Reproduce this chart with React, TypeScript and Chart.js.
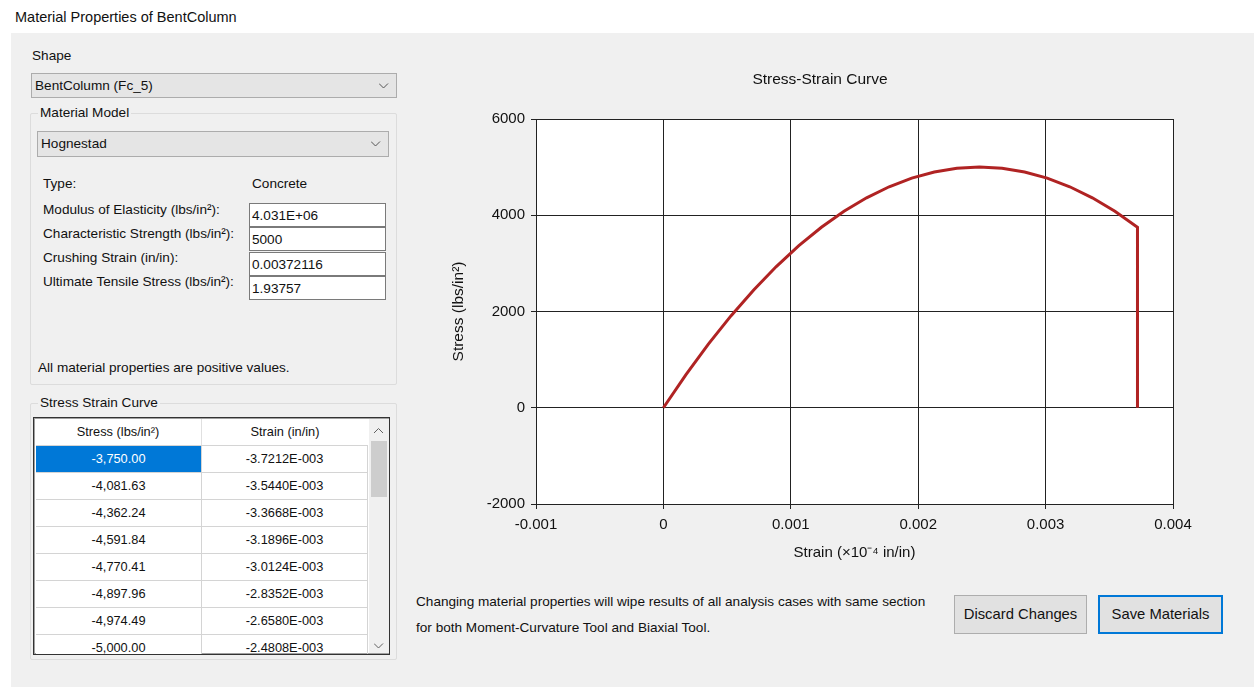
import React, { useEffect, useRef } from "react";
import { Chart, registerables } from "chart.js";

Chart.register(...registerables);

// ---- Data ----
const strainValues = [
  0, 0.0001772, 0.0003544, 0.0005316, 0.0007088, 0.000886, 0.0010632, 0.0012404,
  0.0014176, 0.0015948, 0.001772, 0.0019492, 0.0021264, 0.0023036, 0.0024808,
  0.002658, 0.0028352, 0.0030124, 0.0031896, 0.0033668, 0.003544, 0.0037212, 0.0037212,
];
const stressValues = [
  0, 688.78, 1326.53, 1913.27, 2448.98, 2933.67, 3367.35, 3750.0,
  4081.63, 4362.24, 4591.84, 4770.41, 4897.96, 4974.49, 5000.0,
  4974.49, 4897.96, 4770.41, 4591.84, 4362.24, 4081.63, 3750.0, 0,
];
const xTickValues = [-0.001, 0, 0.001, 0.002, 0.003, 0.004];
const xTickLabels = ["-0.001", "0", "0.001", "0.002", "0.003", "0.004"];
const yTickValues = [-2000, 0, 2000, 4000, 6000];
const yTickLabels = ["-2000", "0", "2000", "4000", "6000"];

const tableStress = ["-3,750.00", "-4,081.63", "-4,362.24", "-4,591.84", "-4,770.41", "-4,897.96", "-4,974.49", "-5,000.00"];
const tableStrain = ["-3.7212E-003", "-3.5440E-003", "-3.3668E-003", "-3.1896E-003", "-3.0124E-003", "-2.8352E-003", "-2.6580E-003", "-2.4808E-003"];

const propLabels = [
  "Modulus of Elasticity (lbs/in²):",
  "Characteristic Strength (lbs/in²):",
  "Crushing Strain (in/in):",
  "Ultimate Tensile Stress (lbs/in²):",
];
const propValues = ["4.031E+06", "5000", "0.00372116", "1.93757"];

const chartTitle = "Stress-Strain Curve";

const UI_FONT = "'Liberation Sans', Arial, sans-serif";
const CHART_FONT = "'Liberation Sans', Arial, sans-serif";
const UI_SIZE = 13.6;

const plotBg = {
  id: "plotBg",
  beforeDraw(chart: any) {
    const { ctx, chartArea } = chart;
    if (!chartArea) return;
    ctx.save();
    ctx.fillStyle = "#ffffff";
    ctx.fillRect(chartArea.left, chartArea.top, chartArea.right - chartArea.left, chartArea.bottom - chartArea.top);
    ctx.restore();
  },
};

// Title centred like the original control (over the whole chart control, not the canvas box)
const centeredTitle = {
  id: "centeredTitle",
  afterDraw(chart: any) {
    const { ctx } = chart;
    ctx.save();
    ctx.font = "15.5px " + CHART_FONT;
    ctx.fillStyle = "#111";
    ctx.textAlign = "center";
    ctx.textBaseline = "middle";
    ctx.fillText(chartTitle, 380, 18);
    ctx.restore();
  },
};

function StressChart() {
  const ref = useRef<HTMLCanvasElement | null>(null);
  useEffect(() => {
    if (!ref.current) return;
    const points = strainValues.map((s, i) => ({ x: s, y: stressValues[i] }));
    const chart = new Chart(ref.current, {
      type: "line",
      data: {
        datasets: [
          {
            data: points,
            borderColor: "#b02323",
            borderWidth: 3,
            pointRadius: 0,
            tension: 0,
            fill: false,
          },
        ],
      },
      options: {
        animation: false,
        responsive: false,
        layout: { padding: { left: 0, right: 47, top: 57, bottom: 0 } },
        plugins: {
          legend: { display: false },
          tooltip: { enabled: false },
          title: { display: false },
        },
        scales: {
          x: {
            type: "linear",
            min: -0.001,
            max: 0.004,
            afterBuildTicks: (scale: any) => {
              scale.ticks = xTickValues.map((v) => ({ value: v }));
            },
            afterFit: (scale: any) => {
              scale.height = 68;
            },
            ticks: {
              color: "#111",
              font: { family: CHART_FONT, size: 15 },
              padding: 7,
              maxRotation: 0,
              autoSkip: false,
              callback: (v: any) => {
                const i = xTickValues.findIndex((t) => Math.abs(t - Number(v)) < 1e-9);
                return i >= 0 ? xTickLabels[i] : "";
              },
            },
            grid: { color: "#222", lineWidth: 1, drawTicks: true, tickLength: 5 },
            border: { color: "#222", width: 1 },
            title: {
              display: true,
              text: "Strain (×10⁻⁴ in/in)",
              color: "#111",
              font: { family: CHART_FONT, size: 15 },
              padding: { top: 0, bottom: 10 },
            },
          },
          y: {
            type: "linear",
            min: -2000,
            max: 6000,
            afterBuildTicks: (scale: any) => {
              scale.ticks = yTickValues.map((v) => ({ value: v }));
            },
            afterFit: (scale: any) => {
              scale.width = 96;
            },
            ticks: {
              color: "#111",
              font: { family: CHART_FONT, size: 15 },
              padding: 6,
              callback: (v: any) => {
                const i = yTickValues.findIndex((t) => t === Number(v));
                return i >= 0 ? yTickLabels[i] : "";
              },
            },
            grid: { color: "#222", lineWidth: 1, drawTicks: true, tickLength: 5 },
            border: { color: "#222", width: 1 },
            title: {
              display: true,
              text: "Stress (lbs/in²)",
              color: "#111",
              font: { family: CHART_FONT, size: 15.5 },
              padding: { top: 9, bottom: 0 },
            },
          },
        },
      } as any,
      plugins: [plotBg, centeredTitle],
    });
    return () => chart.destroy();
  }, []);
  return (
    <canvas
      ref={ref}
      width={780}
      height={510}
      style={{ position: "absolute", left: 440, top: 62, width: 780, height: 510 }}
    />
  );
}

function T(props: { x: number; y: number; children: any; style?: any }) {
  return (
    <div
      style={{
        position: "absolute",
        left: props.x,
        top: props.y - 8,
        lineHeight: "16px",
        whiteSpace: "nowrap",
        ...(props.style || {}),
      }}
    >
      {props.children}
    </div>
  );
}

function Chevron(props: { x: number; y: number; up?: boolean; color?: string }) {
  const pts = props.up ? "0,5 4.5,0.5 9,5" : "0,0.5 4.5,5 9,0.5";
  return (
    <svg style={{ position: "absolute", left: props.x, top: props.y }} width={10} height={6}>
      <polyline points={pts} fill="none" stroke={props.color || "#555"} strokeWidth={1} />
    </svg>
  );
}

function Combo(props: { x: number; y: number; w: number; h: number; text: string }) {
  return (
    <div
      style={{
        position: "absolute",
        left: props.x,
        top: props.y,
        width: props.w,
        height: props.h,
        boxSizing: "border-box",
        background: "#e5e5e5",
        border: "1px solid #acacac",
      }}
    >
      <div style={{ position: "absolute", left: 3, top: 0, lineHeight: props.h - 2 + "px", whiteSpace: "nowrap" }}>
        {props.text}
      </div>
      <Chevron x={props.w - 19} y={Math.round(props.h / 2) - 4} />
    </div>
  );
}

function Group(props: { x: number; y: number; w: number; h: number; label: string }) {
  return (
    <>
      <div
        style={{
          position: "absolute",
          left: props.x,
          top: props.y,
          width: props.w,
          height: props.h,
          boxSizing: "border-box",
          border: "1px solid #dcdcdc",
          borderRadius: 2,
        }}
      />
      <div
        style={{
          position: "absolute",
          left: props.x + 8,
          top: props.y - 8,
          lineHeight: "16px",
          padding: "0 2px",
          background: "#f0f0f0",
          whiteSpace: "nowrap",
        }}
      >
        {props.label}
      </div>
    </>
  );
}

function Table() {
  const rowTop0 = 444;
  const rowH = 27;
  return (
    <div
      style={{
        position: "absolute",
        left: 33,
        top: 417,
        width: 357,
        height: 238,
        boxSizing: "border-box",
        border: "1px solid #333",
        boxShadow: "inset 0 0 0 1px #a0a0a0",
        background: "#fff",
        overflow: "hidden",
        fontSize: 12.8,
      }}
    >
      <div style={{ position: "absolute", left: 1, top: 1, width: 166, height: 26, borderRight: "1px solid #e0e0e0", textAlign: "center", lineHeight: "26px" }}>
        Stress (lbs/in²)
      </div>
      <div style={{ position: "absolute", left: 168, top: 1, width: 166, height: 26, textAlign: "center", lineHeight: "26px" }}>
        Strain (in/in)
      </div>
      {tableStress.map((s, i) => {
        const top = rowTop0 - 417 + i * rowH;
        const sel = i === 0;
        return (
          <React.Fragment key={i}>
            <div
              style={{
                position: "absolute",
                left: 2,
                top: top,
                width: 165,
                height: rowH - 1,
                borderTop: "1px solid #d4d4d4",
                borderRight: "1px solid #d4d4d4",
                background: sel ? "#0078d7" : "#fff",
                color: sel ? "#fff" : "#111",
                textAlign: "center",
                lineHeight: rowH - 1 + "px",
              }}
            >
              {s}
            </div>
            <div
              style={{
                position: "absolute",
                left: 168,
                top: top,
                width: 165,
                height: rowH - 1,
                borderTop: "1px solid #d4d4d4",
                borderRight: "1px solid #d4d4d4",
                color: "#111",
                textAlign: "center",
                lineHeight: rowH - 1 + "px",
              }}
            >
              {tableStrain[i]}
            </div>
          </React.Fragment>
        );
      })}
      <div style={{ position: "absolute", left: 335, top: 1, width: 20, height: 234, background: "#f0f0f0" }}>
        <Chevron x={5} y={9} up color="#606060" />
        <div style={{ position: "absolute", left: 2, top: 22, width: 16, height: 56, background: "#cdcdcd" }} />
        <Chevron x={5} y={224} color="#606060" />
      </div>
    </div>
  );
}

function TextBox(props: { x: number; y: number; w: number; h: number; text: string }) {
  return (
    <div
      style={{
        position: "absolute",
        left: props.x,
        top: props.y,
        width: props.w,
        height: props.h,
        boxSizing: "border-box",
        border: "1px solid #7a7a7a",
        background: "#fff",
      }}
    >
      <div style={{ position: "absolute", left: 2, top: 4, lineHeight: "16px", whiteSpace: "nowrap" }}>{props.text}</div>
    </div>
  );
}

export default function App() {
  const boxTops = [203, 227, 252, 276];
  const labelYs = [210, 234, 258, 282];
  return (
    <div
      style={{
        position: "fixed",
        left: 0,
        top: 0,
        width: 1254,
        height: 687,
        background: "#fff",
        fontFamily: UI_FONT,
        fontSize: UI_SIZE,
        color: "#111",
        overflow: "hidden",
      }}
    >
      <T x={15} y={17} style={{ fontSize: 14.5 }}>Material Properties of BentColumn</T>
      <div style={{ position: "absolute", left: 11, top: 33, width: 1243, height: 654, background: "#f0f0f0" }} />

      <T x={32} y={56}>Shape</T>
      <Combo x={31} y={73} w={366} h={25} text="BentColumn (Fc_5)" />

      <Group x={30} y={113} w={367} h={272} label="Material Model" />
      <Combo x={37} y={131} w={352} h={26} text="Hognestad" />

      <T x={43} y={184}>Type:</T>
      <T x={252} y={184}>Concrete</T>
      {propLabels.map((l, i) => (
        <T key={l} x={43} y={labelYs[i]}>{l}</T>
      ))}
      {propValues.map((v, i) => (
        <TextBox key={v} x={249} y={boxTops[i]} w={137} h={24} text={v} />
      ))}
      <T x={38} y={368}>All material properties are positive values.</T>

      <Group x={30} y={403} w={367} h={257} label="Stress Strain Curve" />
      <Table />

      <StressChart />

      <T x={416} y={602}>Changing material properties will wipe results of all analysis cases with same section</T>
      <T x={416} y={628}>for both Moment-Curvature Tool and Biaxial Tool.</T>

      <div
        style={{
          position: "absolute",
          left: 954,
          top: 595,
          width: 133,
          height: 39,
          boxSizing: "border-box",
          border: "1px solid #adadad",
          background: "#e1e1e1",
          textAlign: "center",
          lineHeight: "37px",
          fontSize: 14.8,
        }}
      >
        Discard Changes
      </div>
      <div
        style={{
          position: "absolute",
          left: 1098,
          top: 595,
          width: 125,
          height: 39,
          boxSizing: "border-box",
          border: "2px solid #0078d7",
          background: "#e1e1e1",
          textAlign: "center",
          lineHeight: "35px",
          fontSize: 14.8,
        }}
      >
        Save Materials
      </div>
    </div>
  );
}
